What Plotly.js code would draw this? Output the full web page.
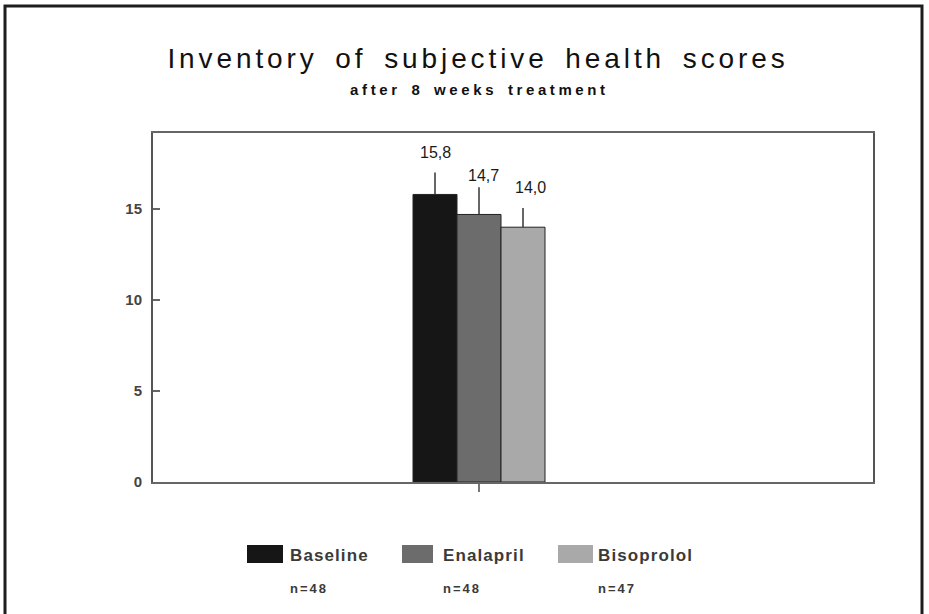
<!DOCTYPE html>
<html>
<head>
<meta charset="utf-8">
<script src="https://cdn.plot.ly/plotly-3.0.1.min.js"></script>
<style>
  html, body { margin: 0; padding: 0; background: #fff; }
  #chart { width: 929px; height: 614px; }
  .gtitle { letter-spacing: 3.9px; word-spacing: 6px; }
  g.annotation[data-index="0"] text { letter-spacing: 3.6px; word-spacing: 3px; }
</style>
</head>
<body>
<div id="chart"></div>
<script>
// ---- data ----
const categories = ["Baseline", "Enalapril", "Bisoprolol"];
const scores = [15.8, 14.7, 14.0];
const errors = [1.2, 1.5, 1.05];
const valueLabels = ["15,8", "14,7", "14,0"];
const sampleSizes = ["n=48", "n=48", "n=47"];
const yTickVals = [0, 5, 10, 15];
const titleText = "Inventory of subjective health scores";
const subtitleText = "after 8 weeks treatment";

// ---- styles ----
const colors = ["#161616", "#6c6c6c", "#a9a9a9"];
const W = 929, H = 614;
const plotL = 153, plotR = 873, plotT = 133, plotB = 482;
const px2x = p => (p - plotL) / (plotR - plotL);
const px2y = p => (plotB - p) / (plotB - plotT);
const FONT = "Liberation Sans, Arial, sans-serif";

const traces = categories.map((c, i) => ({
  type: "bar",
  name: c,
  x: [i],
  y: [scores[i]],
  width: 1,
  marker: { color: colors[i], line: { color: "#222", width: 1 } },
  error_y: { type: "data", symmetric: false, array: [errors[i]], arrayminus: [0],
             visible: true, width: 0, thickness: 1.5, color: "#333" },
  showlegend: false,
  hoverinfo: "skip"
}));

const labelXShift = [0, 4, 7];
const labelYShift = [10, 1, 10];

const annotations = [];
// index 0: subtitle
annotations.push({
  xref: "paper", yref: "paper",
  x: px2x(479.5), y: px2y(89), xanchor: "center", yanchor: "middle",
  text: subtitleText, showarrow: false,
  font: { family: FONT, size: 15, color: "#111", weight: "bold" }
});
categories.forEach((c, i) => {
  annotations.push({
    xref: "x", yref: "y", x: i, y: scores[i] + errors[i],
    xanchor: "center", yanchor: "bottom", yshift: labelYShift[i], xshift: labelXShift[i],
    text: valueLabels[i], showarrow: false,
    font: { family: FONT, size: 16, color: "#1a1a1a" }
  });
});

// custom legend
const swatchPx = [[247, 283], [402, 433], [558, 593]];
const textPx = [290, 443, 598];
const shapes = [];
categories.forEach((c, i) => {
  shapes.push({
    type: "rect", xref: "paper", yref: "paper",
    x0: px2x(swatchPx[i][0]), x1: px2x(swatchPx[i][1]),
    y0: px2y(545), y1: px2y(563),
    fillcolor: colors[i], line: { color: colors[i], width: 0 }
  });
  annotations.push({
    xref: "paper", yref: "paper", x: px2x(textPx[i] - 2), y: px2y(555),
    xanchor: "left", yanchor: "middle",
    text: `<span style="letter-spacing:1.1px">${c}</span>`, showarrow: false,
    font: { family: FONT, size: 17, color: "#3a3a3a", weight: "bold" }
  });
  annotations.push({
    xref: "paper", yref: "paper", x: px2x(textPx[i] - 2), y: px2y(588),
    xanchor: "left", yanchor: "middle",
    text: `<span style="letter-spacing:2px">${sampleSizes[i]}</span>`, showarrow: false,
    font: { family: FONT, size: 13, color: "#3a3a3a", weight: "bold" }
  });
});

// outer frame
shapes.push({
  type: "path", xref: "paper", yref: "paper",
  path: `M ${px2x(5)},${px2y(625)} L ${px2x(5)},${px2y(6)} L ${px2x(922)},${px2y(6)} L ${px2x(922)},${px2y(625)}`,
  line: { color: "#1e1e1e", width: 3 }
});

const xRangeL = -(435 - plotL) / 44;
const xRangeR = xRangeL + (plotR - plotL) / 44;

const layout = {
  width: W, height: H,
  margin: { l: plotL, r: W - plotR, t: plotT, b: H - plotB, pad: 0 },
  paper_bgcolor: "#ffffff",
  plot_bgcolor: "#ffffff",
  showlegend: false,
  title: {
    text: titleText,
    xref: "container", yref: "container",
    x: 478 / W, y: 1 - 58 / H, xanchor: "center", yanchor: "middle",
    font: { family: FONT, size: 28, color: "#111" }
  },
  xaxis: {
    range: [xRangeL, xRangeR],
    tickmode: "array", tickvals: [1], showticklabels: false,
    ticks: "outside", ticklen: 8, tickwidth: 1.5, tickcolor: "#777",
    showline: true, mirror: true, linecolor: "#666", linewidth: 2,
    showgrid: false, zeroline: false, fixedrange: true
  },
  yaxis: {
    range: [0, (plotB - plotT) / 18.2],
    tickmode: "array", tickvals: yTickVals,
    ticks: "inside", ticklen: 7, tickwidth: 1.5, tickcolor: "#666",
    ticklabelstandoff: 6,
    tickfont: { family: FONT, size: 15, color: "#444", weight: "bold" },
    showline: true, mirror: true, linecolor: "#555", linewidth: 2,
    showgrid: false, zeroline: false, fixedrange: true
  },
  bargap: 0,
  annotations: annotations,
  shapes: shapes
};

Plotly.newPlot("chart", traces, layout, { displayModeBar: false, staticPlot: true });
</script>
</body>
</html>
